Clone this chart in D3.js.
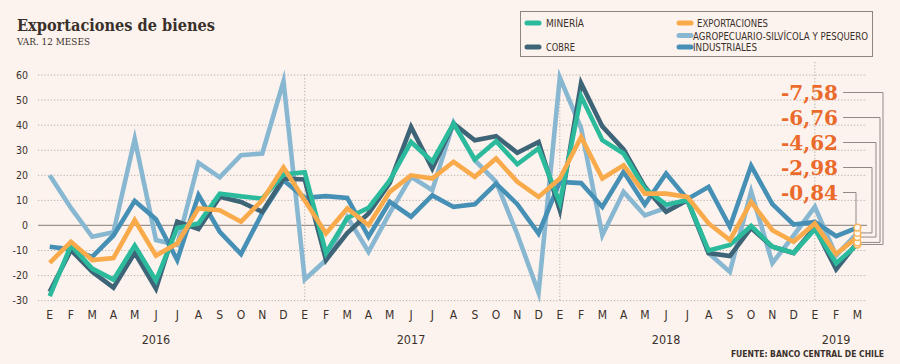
<!DOCTYPE html>
<html><head><meta charset="utf-8">
<script src="https://cdn.jsdelivr.net/npm/d3@7"></script>
<style>body{margin:0;background:#fdf3ee;} svg{display:block}</style>
</head><body><svg id="c" width="900" height="364"></svg>
<script>
// ---------- DATA ----------
const monthLabels = ["E","F","M","A","M","J","J","A","S","O","N","D",
                     "E","F","M","A","M","J","J","A","S","O","N","D",
                     "E","F","M","A","M","J","J","A","S","O","N","D",
                     "E","F","M"];
const yearLabels = ["2016","2017","2018","2019"];
const yearCenters = [5, 17, 29, 37];
const yearStarts = [12, 24, 36];
const yTicks = [-30,-20,-10,0,10,20,30,40,50,60];

const agro = [20, 7, -4.5, -2.7, 34.5, -5.8, -7.8, 25, 19.2, 28, 28.7, 57.5,
              -21.5, -13.8, 3.4, -10.5, 5, 19.4, 14.1, 41, 26, 17.4, -3.5, -26.8,
              59, 38.8, -3.9, 13.4, 4, 7, 10.5, -11, -18.5, 13.5, -15, -4, 7.4,
              -12, -2.98];
const industriales = [-8.5, -9.5, -12.5, -4, 9.8, 2.5, -13.8, 12.1, -2.5, -11.4, 5, 18,
                      11, 11.7, 11, -4.5, 9.4, 3.5, 12, 7.4, 8.4, 16.7, 8.5, -3.2,
                      17.4, 16.9, 7.4, 21.4, 8.3, 20.7, 10.5, 15.4, -0.5, 23.8, 8.5, 0.4, 1.4,
                      -4.3, -0.84];
const cobre = [-26.4, -9.8, -18.5, -24.8, -10.9, -25.2, 1.5, -1.4, 11.4, 9.4, 5.4, 18.7,
               18.3, -13.8, -3, 4.8, 17, 39.3, 22.7, 40.6, 34, 35.6, 29, 33.3,
               6.1, 56.7, 39.5, 30.3, 15.4, 5.4, 10.1, -11, -12.2, -1, -8.5, -11, -0.8,
               -17.5, -6.76];
const mineria = [-28.2, -8, -17.2, -21.6, -8, -22, -1, 0.8, 12.7, 11.6, 10.7, 20.3,
                 21.2, -11, 3, 7, 18, 33.3, 25.5, 40.6, 26.3, 33.6, 24.4, 30.7,
                 9, 51.5, 34, 28.7, 14.7, 8.3, 10.1, -10, -7.8, -0.2, -8.5, -10.9, -1.5,
                 -15.1, -7.58];
const exportaciones = [-14.9, -6.5, -13.8, -13, 2.1, -12, -7.2, 6.8, 6.1, 1.5, 10.1, 23.1,
                       10, -3.2, 6.8, 0.1, 13.4, 20, 18.7, 25.4, 19.4, 26.7, 17.4, 11.4,
                       18.7, 35.3, 18.7, 24, 12.7, 12.7, 11.4, 0.8, -5.8, 9.4, -1.9, -6.5, 0.8,
                       -11.4, -4.62];

const seriesNames = ["AGROPECUARIO-SILVÍCOLA Y PESQUERO","INDUSTRIALES","COBRE","MINERÍA","EXPORTACIONES"];
const seriesValues = [agro, industriales, cobre, mineria, exportaciones];
const seriesColors = ["#88b7d1","#4690b6","#3e6478","#2bbb9c","#f9aa4a"];

// ---------- CHART ----------
const svg = d3.select("#c");
svg.append("rect").attr("width",900).attr("height",364).attr("fill","#fdf3ee");

const x = d3.scaleLinear().domain([0, monthLabels.length-1]).range([49.7, 857.4]);
const y = d3.scaleLinear().domain([-30, 60]).range([300.7, 75]);
const gx0 = 38, gx1 = 867;
const condensed = "'Liberation Sans Narrow','DejaVu Sans Condensed','Roboto Condensed',sans-serif";

// title
svg.append("text").attr("x",17).attr("y",31).text("Exportaciones de bienes")
  .attr("font-family","'DejaVu Serif',serif").attr("font-weight","bold")
  .attr("font-size",17).attr("fill","#3a302b")
  .attr("textLength",198).attr("lengthAdjust","spacingAndGlyphs");
svg.append("text").attr("x",17).attr("y",44.5).text("VAR. 12 MESES")
  .attr("font-family","'DejaVu Serif',serif").attr("font-size",10).attr("fill","#3a302b")
  .attr("textLength",73).attr("lengthAdjust","spacingAndGlyphs");

// grid
const grid = svg.append("g");
grid.selectAll("line.h").data(yTicks).join("line")
  .attr("x1",gx0).attr("x2",gx1)
  .attr("y1",d=>y(d)).attr("y2",d=>y(d))
  .attr("stroke",d=>d===0?"#9b9590":"#b3aba6")
  .attr("stroke-width",d=>d===0?1.2:1)
  .attr("stroke-dasharray",d=>d===0?null:"1.2,2");
grid.selectAll("line.v").data(yearStarts).join("line")
  .attr("x1",d=>x(d)).attr("x2",d=>x(d))
  .attr("y1",(d,i)=>i===2?62:y(60)).attr("y2",y(-30))
  .attr("stroke","#b3aba6").attr("stroke-dasharray","1.2,2");

// y tick labels
svg.append("g").selectAll("text").data(yTicks).join("text")
  .attr("x",28).attr("y",d=>y(d)+3.6).attr("text-anchor","end")
  .attr("font-family",condensed).attr("font-size",10.5).attr("fill","#3a302b")
  .text(d=>d);

// x labels
svg.append("g").selectAll("text").data(monthLabels).join("text")
  .attr("x",(d,i)=>x(i)).attr("y",319).attr("text-anchor","middle")
  .attr("font-family",condensed).attr("font-size",12).attr("fill","#3a302b")
  .text(d=>d);
svg.append("g").selectAll("text").data(yearLabels).join("text")
  .attr("x",(d,i)=>x(yearCenters[i])).attr("y",344).attr("text-anchor","middle")
  .attr("font-family",condensed).attr("font-size",12.5).attr("fill","#3a302b")
  .text(d=>d);
svg.append("text").attr("x",884).attr("y",357).attr("text-anchor","end")
  .attr("font-family",condensed).attr("font-size",8.5).attr("font-weight","bold")
  .attr("fill","#3a302b").text("FUENTE: BANCO CENTRAL DE CHILE");

// lines
const line = d3.line().x((d,i)=>x(i)).y(d=>y(d));
svg.append("g").selectAll("path").data(seriesValues).join("path")
  .attr("d",d=>line(d)).attr("fill","none")
  .attr("stroke",(d,i)=>seriesColors[i]).attr("stroke-width",4.6)
  .attr("stroke-linejoin","miter").attr("stroke-miterlimit",10);

// annotations of last values
const fmt0 = d3.formatLocale({decimal:",",thousands:".",grouping:[3],currency:["",""],minus:"-"}).format(".2f");
const fmt = v => fmt0(v);
const last = seriesValues.map((s,i)=>({v:s[s.length-1], i}));
const sorted = last.slice().sort((a,b)=>a.v-b.v);
const vxs = [883, 880, 876, 872, 856];
const ann = svg.append("g");
const xe = x(monthLabels.length-1);
sorted.forEach((d,k)=>{
  const ly = 92.5 + 25*k;
  const py = y(d.v);
  const vx = vxs[k];
  ann.append("path")
    .attr("d", k===4 ? `M843,${ly}H${vx}V${py-3}` : `M843,${ly}H${vx}V${py}H${xe+3}`)
    .attr("fill","none").attr("stroke","#8f8a86").attr("stroke-width",1);
  ann.append("text").attr("x",838).attr("y",ly+7.5).attr("text-anchor","end")
    .attr("font-family","'DejaVu Serif',serif").attr("font-weight","bold")
    .attr("font-size",20).attr("fill","#ea6a2c").text(fmt(d.v));
});
ann.selectAll("circle").data(sorted).join("circle")
  .attr("cx",xe).attr("cy",d=>y(d.v)).attr("r",3.4)
  .attr("fill","#fff8ec").attr("stroke","#f9b35a").attr("stroke-width",1.5);

// legend
const lg = svg.append("g");
lg.append("rect").attr("x",520.5).attr("y",11.5).attr("width",352).attr("height",45)
  .attr("fill","none").attr("stroke","#8c8681").attr("stroke-width",1);
const legendItems = [
  {s:3, x:525, y:23, tx:546, tl:38},
  {s:2, x:525, y:47, tx:546, tl:29},
  {s:4, x:677, y:23, tx:697, tl:71},
  {s:0, x:677, y:35.5, tx:693, tl:175},
  {s:1, x:677, y:47, tx:693, tl:64}
];
legendItems.forEach(it=>{
  lg.append("line").attr("x1",it.x+2).attr("x2",it.x+14).attr("y1",it.y).attr("y2",it.y)
    .attr("stroke",seriesColors[it.s]).attr("stroke-width",5).attr("stroke-linecap","round");
  lg.append("text").attr("x",it.tx).attr("y",it.y+4).text(seriesNames[it.s])
    .attr("font-family",condensed).attr("font-size",11).attr("fill","#3a302b")
    .attr("textLength",it.tl).attr("lengthAdjust","spacingAndGlyphs");
});
</script></body></html>
